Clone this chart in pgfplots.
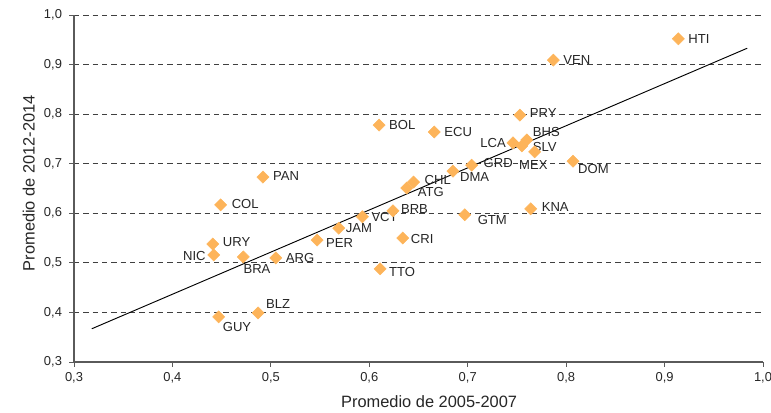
\documentclass[border=0pt]{standalone}
\usepackage{pgfplots}
\pgfplotsset{compat=1.18}
\usepackage{fontspec}
\setmainfont{Liberation Sans}
\definecolor{dia}{RGB}{253,180,90}
\definecolor{axg}{RGB}{90,90,90}
\tikzset{lbl/.style={font=\fontsize{9.8}{11}\selectfont, text=black!85, inner sep=0pt, anchor=west}}
\begin{document}
\begin{tikzpicture}
\useasboundingbox (0,0) rectangle (578.25pt,309pt);
\begin{axis}[
  at={(55.5pt,37.5pt)}, anchor=south west,
  scale only axis, width=516.75pt, height=260.25pt,
  xmin=0.3, xmax=1.0, ymin=0.3, ymax=1.0,
  xtick={0.3,0.4,...,1.0}, ytick={0.3,0.4,...,1.0},
  axis x line*=bottom, axis y line*=left,
  axis line style={axg, line width=0.8pt, -},
  tick style={axg, line width=0.6pt},
  tick align=outside, major tick length=3.5pt,
  ymajorgrids, grid style={black!75, dashed, line width=0.6pt, dash pattern=on 4pt off 3pt},
  /pgf/number format/.cd, use comma, fixed, fixed zerofill, precision=1, assume math mode=true,
  /pgfplots/.cd,
  ticklabel style={font=\fontsize{9.7}{11}\selectfont, text=black!85},
  xticklabel style={yshift=-1pt},
  yticklabel style={xshift=-2pt},
  xlabel={Promedio de 2005-2007}, ylabel={Promedio de 2012-2014},
  label style={font=\fontsize{12.3}{14}\selectfont, text=black!85},
  xlabel style={yshift=-2pt, xshift=8pt},
  ylabel style={yshift=0pt, xshift=4pt},
  clip=false,
]
\addplot[black, line width=0.7pt] coordinates {(0.318,0.367) (0.984,0.933)};
\addplot[only marks, mark=square*, mark size=3.2pt, color=dia, every mark/.append style={rotate=45}] coordinates {
(0.914,0.952) (0.787,0.909) (0.753,0.798) (0.760,0.748) (0.746,0.742)
(0.755,0.736) (0.768,0.724) (0.807,0.705) (0.704,0.697) (0.685,0.685)
(0.764,0.609) (0.697,0.597) (0.645,0.663) (0.638,0.651) (0.610,0.778)
(0.666,0.764) (0.492,0.673) (0.449,0.617) (0.624,0.605) (0.593,0.593)
(0.569,0.570) (0.547,0.546) (0.634,0.550) (0.441,0.538) (0.442,0.516)
(0.472,0.512) (0.505,0.510) (0.611,0.488) (0.487,0.399) (0.447,0.391)
};
\node[lbl] at (axis cs:0.924,0.952) {HTI};
\node[lbl] at (axis cs:0.797,0.909) {VEN};
\node[lbl] at (axis cs:0.763,0.802) {PRY};
\node[lbl] at (axis cs:0.766,0.764) {BHS};
\node[lbl,anchor=east] at (axis cs:0.739,0.742) {LCA};
\node[lbl] at (axis cs:0.766,0.734) {SLV};
\node[lbl] at (axis cs:0.752,0.697) {MEX};
\node[lbl] at (axis cs:0.812,0.689) {DOM};
\node[lbl] at (axis cs:0.716,0.701) {GRD};
\node[lbl] at (axis cs:0.692,0.673) {DMA};
\node[lbl] at (axis cs:0.775,0.613) {KNA};
\node[lbl] at (axis cs:0.710,0.586) {GTM};
\node[lbl] at (axis cs:0.656,0.668) {CHL};
\node[lbl] at (axis cs:0.649,0.643) {ATG};
\node[lbl] at (axis cs:0.620,0.778) {BOL};
\node[lbl] at (axis cs:0.676,0.764) {ECU};
\node[lbl] at (axis cs:0.502,0.675) {PAN};
\node[lbl] at (axis cs:0.460,0.619) {COL};
\node[lbl] at (axis cs:0.632,0.609) {BRB};
\node[lbl] at (axis cs:0.602,0.593) {VCT};
\node[lbl] at (axis cs:0.576,0.570) {JAM};
\node[lbl] at (axis cs:0.556,0.540) {PER};
\node[lbl] at (axis cs:0.642,0.548) {CRI};
\node[lbl] at (axis cs:0.451,0.542) {URY};
\node[lbl,anchor=east] at (axis cs:0.434,0.514) {NIC};
\node[lbl] at (axis cs:0.472,0.488) {BRA};
\node[lbl] at (axis cs:0.515,0.510) {ARG};
\node[lbl] at (axis cs:0.620,0.482) {TTO};
\node[lbl] at (axis cs:0.495,0.417) {BLZ};
\node[lbl] at (axis cs:0.451,0.371) {GUY};
\end{axis}
\end{tikzpicture}
\end{document}
